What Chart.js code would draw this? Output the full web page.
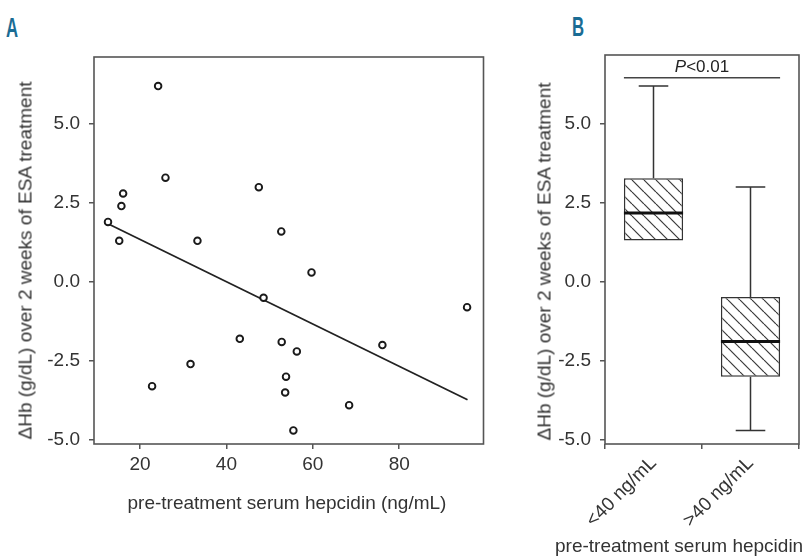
<!DOCTYPE html>
<html><head><meta charset="utf-8">
<script src="https://cdn.jsdelivr.net/npm/chart.js@4.4.1/dist/chart.umd.min.js"></script>
<style>
html,body{margin:0;padding:0;background:#fff;width:805px;height:558px;overflow:hidden;position:relative;font-family:'Liberation Sans',Arial,sans-serif;color:#333}
canvas{position:absolute;top:0}
#cA{left:0}
#cB{left:500px}
.lbl{position:absolute;font-family:'Liberation Sans Narrow','Liberation Sans',sans-serif;font-weight:bold;font-size:27px;line-height:27px;color:#1a6c94;transform-origin:0 0;transform:scaleX(0.62)}
.ytitle{position:absolute;width:420px;height:19px;line-height:19px;font-size:19px;text-align:center;white-space:nowrap;transform:rotate(-90deg)}
.xtitle{position:absolute;height:19px;line-height:19px;font-size:19px;white-space:nowrap}
</style></head><body>
<div class="lbl" style="left:6px;top:14.5px">A</div>
<div class="lbl" style="left:572px;top:14px">B</div>
<canvas id="cA" width="500" height="558"></canvas>
<canvas id="cB" width="305" height="558"></canvas>
<div class="ytitle" style="left:-185.5px;top:251px">ΔHb (g/dL) over 2 weeks of ESA treatment</div>
<div class="ytitle" style="left:334px;top:251.5px">ΔHb (g/dL) over 2 weeks of ESA treatment</div>
<div class="xtitle" style="left:87px;width:400px;text-align:center;top:493.3px">pre-treatment serum hepcidin (ng/mL)</div>
<div class="xtitle" style="left:555px;top:536px">pre-treatment serum hepcidin</div>
<script>
// Panel A data
const hepcidin = [24.2, 25.9, 47.5, 16.1, 15.7, 12.6, 15.2, 33.3, 52.7, 59.7, 48.6, 95.7, 43.1, 52.8, 76.1, 56.3, 31.7, 53.8, 22.8, 53.6, 68.4, 55.5];
const deltaHb  = [6.2, 3.3, 3.0, 2.8, 2.4, 1.9, 1.3, 1.3, 1.6, 0.3, -0.5, -0.8, -1.8, -1.9, -2.0, -2.2, -2.6, -3.0, -3.3, -3.5, -3.9, -4.7];
const fitHepcidin = [12.6, 95.8];
const fitDeltaHb = [1.84, -3.73];
const xTickValues = [20, 40, 60, 80];
const xTickLabels = ['20', '40', '60', '80'];
const yTickValues = [-5, -2.5, 0, 2.5, 5];
const yTickLabels = ['-5.0', '-2.5', '0.0', '2.5', '5.0'];
// Panel B data
const groups = ['<40 ng/mL', '>40 ng/mL'];
const whiskerLow = [1.31, -4.7];
const q1 = [1.31, -3.0];
const median = [2.18, -1.89];
const q3 = [3.28, -0.48];
const whiskerHigh = [6.2, 3.0];
const sigLevel = 6.46;
const sigP = 'P';
const sigRest = '<0.01';

Chart.defaults.font.family = "'Liberation Sans', Arial, sans-serif";
Chart.defaults.font.size = 19;
Chart.defaults.color = '#333';

const frame = {id:'frame', afterDraw(chart){
  const {ctx, chartArea:a} = chart;
  ctx.save(); ctx.strokeStyle = '#555'; ctx.lineWidth = 1.6;
  ctx.strokeRect(a.left, a.top, a.right - a.left, a.bottom - a.top);
  ctx.restore();
}};

function gridOpts(){ return {drawOnChartArea:false, drawTicks:true, tickLength:5, color:'#555', lineWidth:1.5}; }
function yScale(min, max, width){
  return {type:'linear', min, max,
    afterBuildTicks(s){ s.ticks = yTickValues.map(v => ({value:v})); },
    afterFit(s){ s.width = width; },
    ticks:{autoSkip:false, padding:9, callback:(v, i) => yTickLabels[i]},
    grid:gridOpts(), border:{display:false}};
}

new Chart(document.getElementById('cA'), {
  type:'scatter',
  data:{datasets:[
    {type:'line', data: fitHepcidin.map((x, i) => ({x, y: fitDeltaHb[i]})), borderColor:'#222', borderWidth:1.8, pointRadius:0, fill:false, tension:0, order:2},
    {data: hepcidin.map((x, i) => ({x, y: deltaHb[i]})), pointRadius:3.3, pointBorderWidth:1.9, pointBorderColor:'#1a1a1a', pointBackgroundColor:'#fff', showLine:false, order:1}
  ]},
  options:{responsive:false, animation:false, events:[],
    plugins:{legend:{display:false}, tooltip:{enabled:false}},
    layout:{padding:{left:0, right:16.5, top:57, bottom:0}},
    scales:{
      x:{type:'linear', min:9.36, max:99.5,
        afterBuildTicks(s){ s.ticks = xTickValues.map(v => ({value:v})); },
        afterFit(s){ s.height = 114; },
        ticks:{autoSkip:false, padding:4, maxRotation:0, callback:(v, i) => xTickLabels[i]},
        grid:gridOpts(), border:{display:false}},
      y: yScale(-5.13, 7.12, 94)
    }},
  plugins:[frame]
});

const hatch = (() => {
  const s = 12, c = document.createElement('canvas'); c.width = s; c.height = s;
  const g = c.getContext('2d'); g.fillStyle = '#fff'; g.fillRect(0, 0, s, s);
  g.strokeStyle = '#3a3a3a'; g.lineWidth = 1.2;
  for (const k of [-s, 0, s]) { g.beginPath(); g.moveTo(k, 0); g.lineTo(k + s, s); g.stroke(); }
  return g.createPattern(c, 'repeat');
})();

const boxParts = {id:'boxParts', afterDatasetsDraw(chart){
  const {ctx, scales:{y}} = chart; const meta = chart.getDatasetMeta(0);
  ctx.save(); ctx.lineCap = 'butt';
  meta.data.forEach((bar, i) => {
    const x = bar.x, hw = bar.width / 2, cw = bar.width / 4;
    const yHi = y.getPixelForValue(whiskerHigh[i]), yQ3 = y.getPixelForValue(q3[i]);
    const yQ1 = y.getPixelForValue(q1[i]), yLo = y.getPixelForValue(whiskerLow[i]);
    const yMed = y.getPixelForValue(median[i]);
    ctx.strokeStyle = '#333'; ctx.lineWidth = 1.5; ctx.beginPath();
    ctx.moveTo(x, yHi); ctx.lineTo(x, yQ3); ctx.moveTo(x - cw, yHi); ctx.lineTo(x + cw, yHi);
    if (yLo > yQ1 + 0.5) { ctx.moveTo(x, yQ1); ctx.lineTo(x, yLo); ctx.moveTo(x - cw, yLo); ctx.lineTo(x + cw, yLo); }
    ctx.stroke();
    ctx.strokeStyle = '#111'; ctx.lineWidth = 3; ctx.beginPath();
    ctx.moveTo(x - hw, yMed); ctx.lineTo(x + hw, yMed); ctx.stroke();
  });
  const b0 = meta.data[0], b1 = meta.data[1];
  const left = b0.x - b0.width / 2, right = b1.x + b1.width / 2;
  const yl = y.getPixelForValue(sigLevel);
  ctx.strokeStyle = '#444'; ctx.lineWidth = 1.5; ctx.beginPath();
  ctx.moveTo(left, yl); ctx.lineTo(right, yl); ctx.stroke();
  ctx.fillStyle = '#222'; ctx.textBaseline = 'alphabetic';
  ctx.font = "italic 17px 'Liberation Sans', Arial, sans-serif"; const w1 = ctx.measureText(sigP).width;
  ctx.font = "17px 'Liberation Sans', Arial, sans-serif"; const w2 = ctx.measureText(sigRest).width;
  const sx = (left + right) / 2 - (w1 + w2) / 2, by = yl - 6;
  ctx.font = "italic 17px 'Liberation Sans', Arial, sans-serif"; ctx.fillText(sigP, sx, by);
  ctx.font = "17px 'Liberation Sans', Arial, sans-serif"; ctx.fillText(sigRest, sx + w1, by);
  ctx.restore();
}};

new Chart(document.getElementById('cB'), {
  type:'bar',
  data:{labels: groups, datasets:[{
    data: q1.map((v, i) => [v, q3[i]]), backgroundColor: hatch, borderColor:'#333', borderWidth:1.5,
    borderSkipped:false, barPercentage:0.61, categoryPercentage:1
  }]},
  options:{responsive:false, animation:false, events:[],
    plugins:{legend:{display:false}, tooltip:{enabled:false}},
    layout:{padding:{left:0, right:6, top:55, bottom:0}},
    scales:{
      x:{type:'category', offset:true,
        afterFit(s){ s.height = 114; },
        ticks:{autoSkip:false, minRotation:45, maxRotation:45, padding:3},
        grid:gridOpts(), border:{display:false}},
      y: yScale(-5.13, 7.18, 105)
    }},
  plugins:[boxParts, frame]
});
</script>
</body></html>
